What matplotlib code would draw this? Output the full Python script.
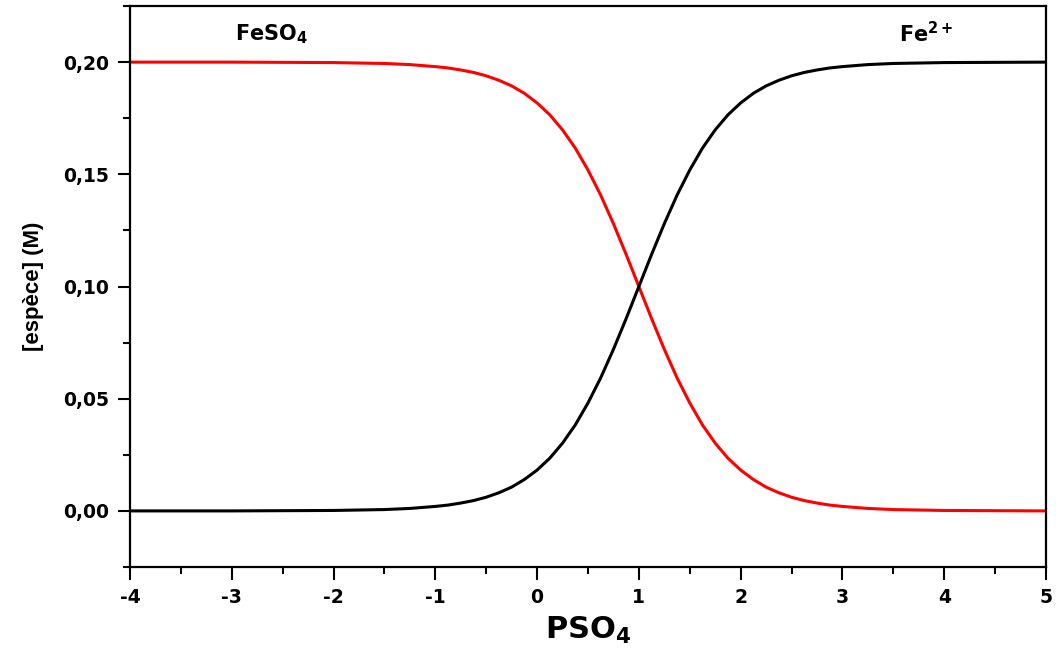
import matplotlib
matplotlib.use("Agg")
import matplotlib.pyplot as plt
from matplotlib.ticker import MultipleLocator, FuncFormatter

# PSO4 values and species concentrations (M)
pso4 = [-4.0, -3.5, -3.0, -2.5, -2.0, -1.75, -1.5, -1.25,
        -1.0, -0.875, -0.75, -0.625, -0.5, -0.375, -0.25, -0.125,
        0.0, 0.125, 0.25, 0.375, 0.5, 0.625, 0.75, 0.875,
        1.0, 1.125, 1.25, 1.375, 1.5, 1.625, 1.75, 1.875,
        2.0, 2.125, 2.25, 2.375, 2.5, 2.625, 2.75, 2.875,
        3.0, 3.25, 3.5, 3.75, 4.0, 4.5, 5.0]
fe2 = [0.0000, 0.0000, 0.0000, 0.0001, 0.0002, 0.0004, 0.0006, 0.0011,
       0.0020, 0.0026, 0.0035, 0.0046, 0.0061, 0.0081, 0.0106, 0.0140,
       0.0182, 0.0235, 0.0302, 0.0383, 0.0481, 0.0593, 0.0720, 0.0857,
       0.1000, 0.1143, 0.1280, 0.1407, 0.1519, 0.1617, 0.1698, 0.1765,
       0.1818, 0.1861, 0.1894, 0.1919, 0.1939, 0.1954, 0.1965, 0.1974,
       0.1980, 0.1989, 0.1994, 0.1996, 0.1998, 0.1999, 0.2000]
feso4 = [0.2000, 0.2000, 0.2000, 0.1999, 0.1998, 0.1996, 0.1994, 0.1989,
         0.1980, 0.1974, 0.1965, 0.1954, 0.1939, 0.1919, 0.1894, 0.1861,
         0.1818, 0.1765, 0.1698, 0.1617, 0.1519, 0.1407, 0.1280, 0.1143,
         0.1000, 0.0857, 0.0720, 0.0593, 0.0481, 0.0383, 0.0302, 0.0235,
         0.0182, 0.0140, 0.0106, 0.0081, 0.0061, 0.0046, 0.0035, 0.0026,
         0.0020, 0.0011, 0.0006, 0.0004, 0.0002, 0.0001, 0.0000]

plt.rcParams['font.family'] = ['DejaVu Sans']

fig = plt.figure(figsize=(10.56, 6.62), dpi=100)
ax = fig.add_axes([0.1231, 0.1435, 0.8674, 0.8474])

ax.plot(pso4, feso4, color='#ff0000', lw=2.2)
ax.plot(pso4, fe2, color='black', lw=2.2)

ax.set_xlim(-4, 5)
ax.set_ylim(-0.025, 0.225)
ax.xaxis.set_major_locator(MultipleLocator(1))
ax.xaxis.set_minor_locator(MultipleLocator(0.5))
ax.yaxis.set_major_locator(MultipleLocator(0.05))
ax.yaxis.set_minor_locator(MultipleLocator(0.025))
ax.yaxis.set_major_formatter(FuncFormatter(lambda v, p: f"{v:.2f}".replace('.', ',')))
ax.xaxis.set_major_formatter(FuncFormatter(lambda v, p: f"{v:.0f}"))

ax.tick_params(which='major', direction='out', length=9, width=1.5, labelsize=13.5, pad=6)
ax.tick_params(which='minor', direction='out', length=5, width=1.5)
for lab in ax.get_xticklabels() + ax.get_yticklabels():
    lab.set_fontweight('bold')
for s in ax.spines.values():
    s.set_linewidth(1.6)

ax.set_ylabel('[espèce] (M)', fontsize=16, fontweight='bold',
              family=['Liberation Sans Narrow', 'Liberation Sans'], labelpad=14)
ax.set_xlabel(r'PSO$_\mathbf{4}$', fontsize=22, fontweight='bold', labelpad=6)

ax.text(-2.97, 0.2125, r'FeSO$_\mathbf{4}$', fontsize=15, fontweight='bold', va='center')
ax.text(3.56, 0.2125, r'Fe$^\mathbf{2+}$', fontsize=15, fontweight='bold', va='center')

fig.savefig('out.png', dpi=100)
